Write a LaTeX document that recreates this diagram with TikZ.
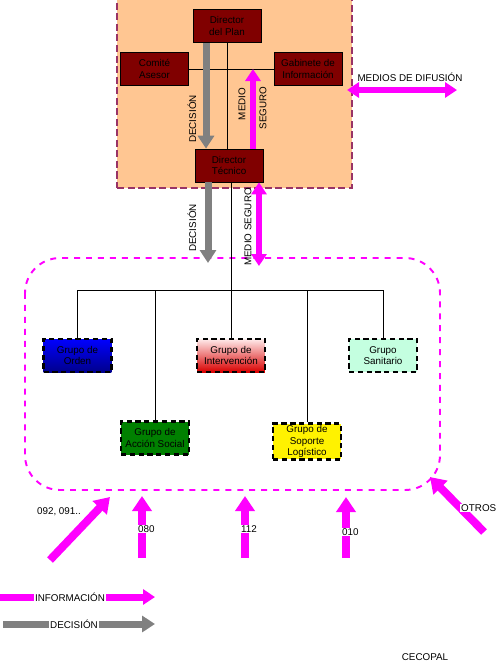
\documentclass[tikz,border=0pt]{standalone}
\usepackage{fontspec}
\setmainfont{Liberation Sans}
\usetikzlibrary{arrows.meta}

\definecolor{melocoton}{RGB}{255,198,146}
\definecolor{borde}{RGB}{153,51,102}
\definecolor{granate}{RGB}{128,0,0}
\definecolor{rosa}{RGB}{255,0,255}
\definecolor{gris}{RGB}{128,128,128}
\definecolor{menta}{RGB}{196,255,224}
\definecolor{verde}{RGB}{0,128,0}

\tikzset{
    cargo/.style={draw, fill=granate, minimum width=1.36cm,
        minimum height=0.66cm, inner sep=1pt, align=center},
    grupo/.style={draw, line width=1.3pt, dash pattern=on 3pt off 2pt,
        minimum width=1.36cm, minimum height=0.66cm, inner sep=1pt,
        align=center},
    decision/.style={draw=gris, line width=0.14cm,
        -{Triangle[width=0.32cm, length=0.26cm]}},
    info/.style={draw=rosa, line width=0.12cm,
        -{Triangle[width=0.3cm, length=0.24cm]}},
    entrada/.style={draw=rosa, line width=0.16cm,
        -{Triangle[width=0.38cm, length=0.3cm]}},
    etiqueta/.style={fill=white, inner sep=0.5pt}
}

\begin{document}
\begin{tikzpicture}[x=0.02cm, y=-0.02cm, font=\fontsize{5.6}{6.6}\selectfont]
    \useasboundingbox (0,0) rectangle (500,663);

    % mando (its top edge lies above the page)
    \node[draw=borde, fill=melocoton, line width=1pt,
        dash pattern=on 4pt off 2pt, minimum width=4.7cm,
        minimum height=3.9cm] (mando) at (234.5,90.5) {};
    \node[cargo] (dirplan) at (227,26) {Director\\del Plan};
    \node[cargo] (comite) at (154.5,69) {Comité\\Asesor};
    \node[cargo] (gabinete) at (308,69) {Gabinete de\\Información};
    \node[cargo] (dirtec) at (229,165.5) {Director\\Técnico};

    \draw (comite.east) -- (gabinete.west);
    \draw (dirplan.south) -- (dirplan.south |- dirtec.north);
    \draw[decision] ([xshift=-0.42cm]dirplan.south)
        -- ([xshift=-0.42cm]dirplan.south |- dirtec.north);
    \draw[info] ([xshift=0.48cm]dirtec.north)
        -- ([xshift=0.48cm]dirtec.north |- comite.east);
    \node[rotate=90] at (192,119) {DECISIÓN};
    \node[rotate=90] at (242,104) {MEDIO};
    \node[rotate=90] at (263,108) {SEGURO};

    % difusion
    \coordinate (difusion) at (457,90);
    \draw[info, {Triangle[width=0.3cm, length=0.24cm]}-{Triangle[width=0.3cm, length=0.24cm]}]
        (347,90) -- (difusion);
    \node at (410,77) {MEDIOS DE DIFUSIÓN};

    % grupos
    \draw[rosa, line width=1.1pt, dash pattern=on 3.4pt off 3.4pt,
        rounded corners=0.7cm] (25,258) rectangle (440,490);
    \coordinate (grupos) at (232,258);

    \node[grupo, top color=blue, bottom color=blue!55!black] (orden) at (77.5,355.5) {Grupo de\\Orden};
    \node[grupo, top color=red!8, bottom color=red!85!black] (interv) at (231,355.5) {Grupo de\\Intervención};
    \node[grupo, fill=menta] (sanitario) at (383,355.5) {Grupo\\Sanitario};
    \node[grupo, fill=verde] (accion) at (155,438) {Grupo de\\Acción Social};
    \node[grupo, fill=yellow] (soporte) at (307,441.5) {Grupo de\\Soporte\\Logístico};

    \coordinate (bus) at (231,290);
    \draw (dirtec.south -| interv.north) -- (interv.north);
    \draw (orden.north |- bus) -- (sanitario.north |- bus);
    \foreach \g in {orden, accion, soporte, sanitario}
        \draw (\g.north |- bus) -- (\g.north);

    \draw[decision] ([xshift=-0.42cm]dirtec.south)
        -- ([xshift=-0.42cm,yshift=-0.1cm]dirtec.south |- grupos);
    \draw[info, {Triangle[width=0.3cm, length=0.24cm]}-{Triangle[width=0.3cm, length=0.24cm]}]
        ([xshift=0.6cm]dirtec.south)
        -- ([xshift=0.6cm,yshift=-0.16cm]dirtec.south |- grupos);
    \node[rotate=90] at (192,228) {DECISIÓN};
    \node[rotate=90] at (248,227) {MEDIO SEGURO};

    % llamadas
    \coordinate (e092) at (110,497);
    \coordinate (e080) at (142,496);
    \coordinate (e112) at (245,496);
    \coordinate (e010) at (346,497);
    \coordinate (eotros) at (430,477);
    \draw[entrada] (50,560) -- (e092);
    \draw[entrada] (142,558) -- (e080);
    \draw[entrada] (245,558) -- (e112);
    \draw[entrada] (346,558) -- (e010);
    \draw[entrada] (484,532) -- (eotros);
    \node at (59,512) {092, 091..};
    \node[etiqueta, anchor=west] at (137,529) {080};
    \node[etiqueta, anchor=west] at (240,529) {112};
    \node[etiqueta, anchor=west] at (341,532) {010};
    \node[etiqueta, anchor=west] at (460,508) {OTROS};

    % leyenda
    \draw[info, line width=0.14cm] (0,597) -- (155,597);
    \node[etiqueta] at (70,597) {INFORMACIÓN};
    \draw[decision] (3,624) -- (155,624);
    \node[etiqueta] at (74,624) {DECISIÓN};

    \node at (425,657) {CECOPAL};
\end{tikzpicture}
\end{document}
